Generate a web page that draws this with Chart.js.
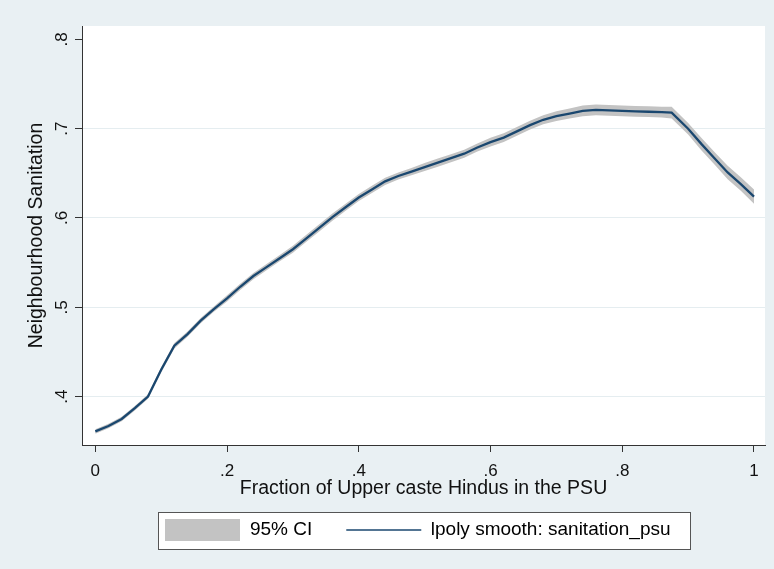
<!DOCTYPE html>
<html><head><meta charset="utf-8">
<script src="https://cdn.jsdelivr.net/npm/chart.js@4.4.0/dist/chart.umd.min.js"></script>
<style>html,body{margin:0;padding:0;background:#e9f0f3;}#wrap{width:774px;height:569px;}</style>
</head><body><div id="wrap"><canvas id="c" width="774" height="569"></canvas></div>
<script>
const xValues = [0,0.02,0.04,0.06,0.08,0.10,0.12,0.14,0.16,0.18,0.20,0.22,0.24,0.26,0.28,0.30,0.32,0.34,0.36,0.38,0.40,0.42,0.44,0.46,0.48,0.50,0.52,0.54,0.56,0.58,0.60,0.62,0.64,0.66,0.68,0.70,0.72,0.74,0.76,0.78,0.80,0.82,0.84,0.86,0.875,0.90,0.92,0.94,0.96,0.98,1.00];
const smoothValues = [0.361,0.367,0.375,0.387,0.400,0.430,0.457,0.470,0.485,0.498,0.510,0.523,0.535,0.545,0.555,0.565,0.577,0.589,0.601,0.612,0.623,0.632,0.641,0.647,0.652,0.657,0.662,0.667,0.672,0.679,0.685,0.690,0.697,0.704,0.710,0.714,0.717,0.720,0.721,0.7205,0.720,0.7195,0.719,0.7185,0.718,0.700,0.683,0.667,0.651,0.638,0.624];
const ciLower = [0.3585,0.3645,0.3725,0.3845,0.3975,0.427,0.454,0.467,0.482,0.495,0.5065,0.5195,0.5315,0.5415,0.5515,0.561,0.573,0.585,0.597,0.608,0.619,0.628,0.637,0.643,0.648,0.6525,0.6575,0.6625,0.6675,0.6745,0.680,0.685,0.692,0.699,0.705,0.7085,0.7115,0.714,0.715,0.7145,0.714,0.7135,0.713,0.7125,0.7115,0.6935,0.676,0.660,0.6435,0.6305,0.616];
const ciUpper = [0.3635,0.3695,0.3775,0.3895,0.4025,0.433,0.460,0.473,0.488,0.501,0.5135,0.5265,0.5385,0.5485,0.5585,0.569,0.581,0.593,0.605,0.616,0.627,0.636,0.645,0.651,0.656,0.6615,0.6665,0.6715,0.6765,0.6835,0.690,0.695,0.702,0.709,0.715,0.7195,0.7225,0.726,0.727,0.7265,0.726,0.7255,0.725,0.7245,0.7245,0.7065,0.690,0.674,0.6585,0.6455,0.632];
const xTickValues = [0,0.2,0.4,0.6,0.8,1];
const xTickLabels = ['0','.2','.4','.6','.8','1'];
const yTickValues = [0.4,0.5,0.6,0.7,0.8];
const yTickLabels = ['.4','.5','.6','.7','.8'];
const seriesLabels = ['95% CI','lpoly smooth: sanitation_psu'];
const xTitle = 'Fraction of Upper caste Hindus in the PSU';
const yTitle = 'Neighbourhood Sanitation';

const FONT = '"Liberation Sans", Arial, sans-serif';
const BG = '#e9f0f3';
const CI_COLOR = '#c3c3c3';
const LINE_COLOR = '#1a476f';
const LEG_FONT = 19;
const LEG_PAD = 34;

const swatch = document.createElement('canvas');
swatch.width = 75; swatch.height = 22;
(function(){ const g = swatch.getContext('2d'); g.fillStyle = CI_COLOR; g.fillRect(0,0,75,22); })();

const pts = arr => xValues.map((x,i)=>({x:x, y:arr[i]}));

const framePlugin = {
  id: 'frame',
  afterLayout(chart) {
    const lg = chart.legend;
    if (!lg || !lg.lineWidths) return;
    const h = lg.height;
    const newTop = 530 - LEG_PAD - LEG_FONT/2;
    lg.top = newTop; lg.bottom = newTop + h;
    const W = lg.lineWidths[0] - LEG_PAD;
    const curStart = (lg.left + LEG_PAD + lg.right - lg.lineWidths[0]) / 2;
    const ca = chart.chartArea;
    const wantStart = (ca.left + ca.right) / 2 - 5.5 - W / 2;
    const dx = wantStart - curStart;
    lg.left += dx; lg.right += dx;
  },
  beforeDraw(chart) {
    const c = chart.ctx, ca = chart.chartArea;
    c.save();
    c.fillStyle = BG; c.fillRect(0,0,chart.width,chart.height);
    c.fillStyle = '#ffffff'; c.fillRect(ca.left, ca.top, ca.right-ca.left, ca.bottom-ca.top);
    const lg = chart.legend;
    if (lg && lg.legendHitBoxes && lg.legendHitBoxes.length) {
      const hb = lg.legendHitBoxes;
      const last = hb[hb.length-1];
      const cy = lg.top + LEG_PAD + LEG_FONT/2;
      const l = Math.round(hb[0].left - 7) + 0.5, r = Math.round(last.left + last.width + 19) + 0.5;
      const t = Math.round(cy - 18.5) + 0.5, b = Math.round(cy + 18.5) + 0.5;
      c.fillStyle = '#ffffff'; c.fillRect(l, t, r-l, b-t);
      c.strokeStyle = '#555555'; c.lineWidth = 1; c.strokeRect(l, t, r-l, b-t);
    }
    c.restore();
  }
};

new Chart(document.getElementById('c'), {
  type: 'line',
  data: {
    datasets: [
      { label: seriesLabels[0], data: pts(ciUpper), fill: '+1', backgroundColor: CI_COLOR, borderWidth: 0, pointRadius: 0, order: 1 },
      { label: seriesLabels[0] + ' lower', data: pts(ciLower), fill: false, borderWidth: 0, pointRadius: 0, order: 2 },
      { label: seriesLabels[1], data: pts(smoothValues), fill: false, borderColor: LINE_COLOR, borderWidth: 2.3, pointRadius: 0, tension: 0, order: 0 }
    ]
  },
  options: {
    responsive: false, animation: false, devicePixelRatio: 1,
    layout: { padding: { left: 0, top: 26, right: 9, bottom: 0 } },
    plugins: {
      tooltip: { enabled: false },
      legend: {
        display: true, position: 'bottom', fullSize: false, align: 'center',
        labels: {
          usePointStyle: true, pointStyleWidth: 75, padding: LEG_PAD,
          font: { family: FONT, size: LEG_FONT }, color: '#111',
          generateLabels: () => [
            { text: seriesLabels[0], pointStyle: swatch, fillStyle: CI_COLOR, strokeStyle: CI_COLOR, lineWidth: 0, hidden: false, datasetIndex: 0 },
            { text: seriesLabels[1], pointStyle: 'line', fillStyle: LINE_COLOR, strokeStyle: LINE_COLOR, lineWidth: 1.5, hidden: false, datasetIndex: 2 }
          ]
        }
      }
    },
    scales: {
      x: {
        type: 'linear', min: -0.0202, max: 1.0167,
        afterBuildTicks: s => { s.ticks = xTickValues.map(v => ({ value: v })); },
        afterFit: s => { s.height = 61; },
        ticks: { callback: (v, i) => xTickLabels[i], font: { family: FONT, size: 17 }, color: '#111', padding: 9.5, maxRotation: 0, minRotation: 0 },
        grid: { display: true, drawOnChartArea: false, drawTicks: true, tickLength: 7, tickColor: '#333', tickWidth: 1 },
        border: { display: true, color: '#333', width: 1 },
        title: { display: true, text: xTitle, font: { family: FONT, size: 19.5 }, color: '#111', padding: { top: 0, bottom: 5.3 } }
      },
      y: {
        type: 'linear', min: 0.3458, max: 0.815,
        afterBuildTicks: s => { s.ticks = yTickValues.map(v => ({ value: v })); },
        afterFit: s => { s.width = 82; },
        ticks: { callback: (v, i) => yTickLabels[i], font: { family: FONT, size: 17 }, color: '#111', padding: 5.4, minRotation: 90, maxRotation: 90, crossAlign: 'center' },
        grid: { display: true, drawTicks: true, tickLength: 7, tickColor: '#333', tickWidth: 1,
          color: ctx => (ctx.tick && Math.abs(ctx.tick.value - 0.8) < 1e-9) ? 'rgba(0,0,0,0)' : '#e5edf0', lineWidth: 1 },
        border: { display: true, color: '#333', width: 1 },
        title: { display: true, text: yTitle, font: { family: FONT, size: 19.5 }, color: '#111', padding: { top: 25, bottom: 0 } }
      }
    }
  },
  plugins: [framePlugin]
});
</script>
</body></html>
